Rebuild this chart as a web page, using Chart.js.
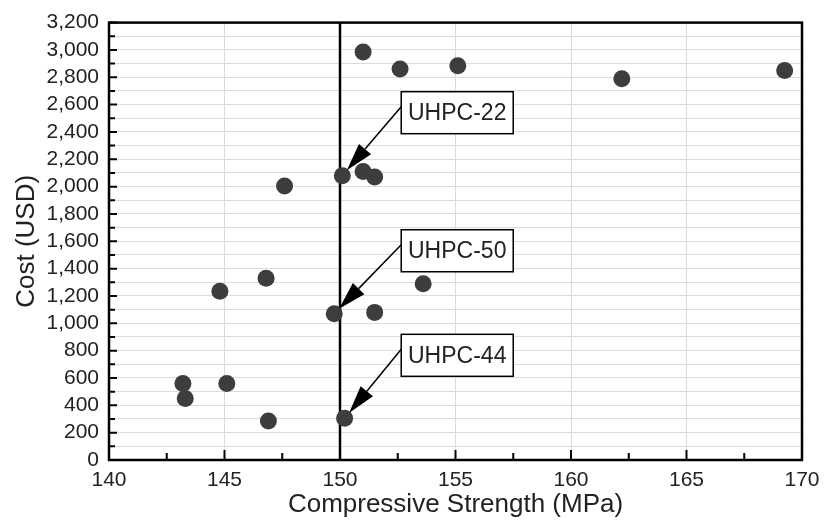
<!DOCTYPE html>
<html lang="en">
<head>
  <meta charset="UTF-8" />
  <title>Cost vs Compressive Strength</title>
  <script src="https://cdn.jsdelivr.net/npm/chart.js"></script>
  <style>
    body {
      margin: 0;
      background: #fff;
      font-family: "Liberation Sans", Arial, sans-serif;
    }
    .chart-container {
      width: 839px;
      height: 524px;
    }
  </style>
</head>
<body>

  <div class="chart-container">
    <canvas id="costChart"></canvas>
  </div>

<script>
  // valores
  const strength = [151.0, 152.6, 155.1, 162.2, 169.25, 150.1, 151.0, 151.5, 147.6, 146.8,
                    144.8, 149.75, 151.5, 153.6, 143.2, 143.3, 145.1, 146.9, 150.2];
  const cost = [2985, 2860, 2885, 2790, 2850, 2080, 2110, 2070, 2005, 1330,
                1235, 1070, 1080, 1290, 560, 450, 560, 285, 305];

  // pontos com rótulo
  const labelNames = ['UHPC-22', 'UHPC-50', 'UHPC-44'];
  const labelIndex = [5, 11, 18];
  const labelBoxStrength = 152.65;

  const targetStrength = 150;

  const xMin = 140, xMax = 170, xStep = 2.5, xMajor = 5;
  const yMin = 0, yMax = 3200, yStep = 100, yMajor = 200;

  const textColor = '#222';
  const fontFamily = '"Liberation Sans", Arial, sans-serif';

  const framePlugin = {
    id: 'frame',
    beforeDatasetsDraw(chart) {
      const ctx = chart.ctx;
      const area = chart.chartArea;
      const x = chart.scales.x.getPixelForValue(targetStrength);
      ctx.save();
      ctx.strokeStyle = '#000';
      ctx.lineWidth = 2.5;
      ctx.beginPath();
      ctx.moveTo(x, area.top);
      ctx.lineTo(x, area.bottom);
      ctx.stroke();
      ctx.restore();
    },
    afterDatasetsDraw(chart) {
      const ctx = chart.ctx;
      const area = chart.chartArea;
      const xs = chart.scales.x;
      const ys = chart.scales.y;
      ctx.save();

      // ticks para dentro
      ctx.strokeStyle = '#000';
      ctx.lineWidth = 2;
      ctx.beginPath();
      for (let v = xMin; v <= xMax; v += xStep) {
        const px = xs.getPixelForValue(v);
        const len = v % xMajor === 0 ? 10 : 7;
        ctx.moveTo(px, area.bottom);
        ctx.lineTo(px, area.bottom - len);
      }
      for (let v = yMin; v <= yMax; v += yStep) {
        const py = ys.getPixelForValue(v);
        const len = v % yMajor === 0 ? 8 : 6;
        ctx.moveTo(area.left, py);
        ctx.lineTo(area.left + len, py);
      }
      ctx.stroke();

      // moldura
      ctx.lineWidth = 2.5;
      ctx.strokeRect(area.left, area.top, area.right - area.left, area.bottom - area.top);

      // rótulos com seta
      ctx.font = '23px ' + fontFamily;
      ctx.textAlign = 'center';
      ctx.textBaseline = 'middle';
      labelNames.forEach((name, i) => {
        const k = labelIndex[i];
        const px = xs.getPixelForValue(strength[k]);
        const py = ys.getPixelForValue(cost[k]);
        const boxLeft = xs.getPixelForValue(labelBoxStrength);
        const boxTop = py - 84;
        const boxW = 112, boxH = 42;

        const sx = boxLeft, sy = boxTop + 15;
        const dx = px - sx, dy = py - sy;
        const d = Math.hypot(dx, dy);
        const ux = dx / d, uy = dy / d;
        const tx = px - ux * 7, ty = py - uy * 7;
        const headLen = 28, headW = 8;
        const bx = tx - ux * headLen, by = ty - uy * headLen;

        ctx.strokeStyle = '#000';
        ctx.fillStyle = '#000';
        ctx.lineWidth = 1.5;
        ctx.beginPath();
        ctx.moveTo(sx, sy);
        ctx.lineTo(bx, by);
        ctx.stroke();
        ctx.beginPath();
        ctx.moveTo(tx, ty);
        ctx.lineTo(bx - uy * headW, by + ux * headW);
        ctx.lineTo(bx + uy * headW, by - ux * headW);
        ctx.closePath();
        ctx.fill();

        ctx.fillStyle = '#fff';
        ctx.fillRect(boxLeft, boxTop, boxW, boxH);
        ctx.strokeRect(boxLeft, boxTop, boxW, boxH);
        ctx.fillStyle = textColor;
        ctx.fillText(name, boxLeft + boxW / 2, boxTop + boxH / 2 + 1);
      });

      ctx.restore();
    }
  };

  function criarGrafico(ctx) {
    const pontos = strength.map((s, i) => ({ x: s, y: cost[i] }));
    return new Chart(ctx, {
      type: 'scatter',
      data: {
        datasets: [{
          data: pontos,
          backgroundColor: '#3d3d3d',
          borderWidth: 0,
          pointRadius: 8.5,
          pointHoverRadius: 8.5
        }]
      },
      options: {
        responsive: true,
        maintainAspectRatio: false,
        animation: false,
        layout: { padding: { top: 17, right: 37, left: 0, bottom: 0 } },
        plugins: {
          legend: { display: false },
          tooltip: { enabled: false }
        },
        scales: {
          x: {
            type: 'linear',
            min: xMin,
            max: xMax,
            border: { display: false },
            grid: {
              drawTicks: false,
              color: c => (c.tick && c.tick.value % xMajor === 0) ? '#d9d9d9' : 'rgba(0,0,0,0)',
              lineWidth: 1
            },
            ticks: {
              stepSize: xStep,
              autoSkip: false,
              maxRotation: 0,
              padding: 8,
              color: textColor,
              font: { size: 21, family: fontFamily },
              callback: v => v % xMajor === 0 ? v : ''
            },
            title: {
              display: true,
              text: 'Compressive Strength (MPa)',
              color: textColor,
              font: { size: 26, family: fontFamily },
              padding: { top: 0, bottom: 4 }
            },
            afterFit: s => { s.height = 64; }
          },
          y: {
            min: yMin,
            max: yMax,
            border: { display: false },
            grid: {
              drawTicks: false,
              color: '#dcdcdc',
              lineWidth: 1
            },
            ticks: {
              stepSize: yStep,
              autoSkip: false,
              padding: 10,
              color: textColor,
              font: { size: 21, family: fontFamily },
              callback: v => v % yMajor === 0 ? v.toLocaleString('en-US') : ''
            },
            title: {
              display: true,
              text: 'Cost (USD)',
              color: textColor,
              font: { size: 26, family: fontFamily },
              padding: { top: 11, bottom: 0 }
            },
            afterFit: s => { s.width = 109; }
          }
        }
      },
      plugins: [framePlugin]
    });
  }

  criarGrafico(document.getElementById('costChart').getContext('2d'));
</script>
</body>
</html>
